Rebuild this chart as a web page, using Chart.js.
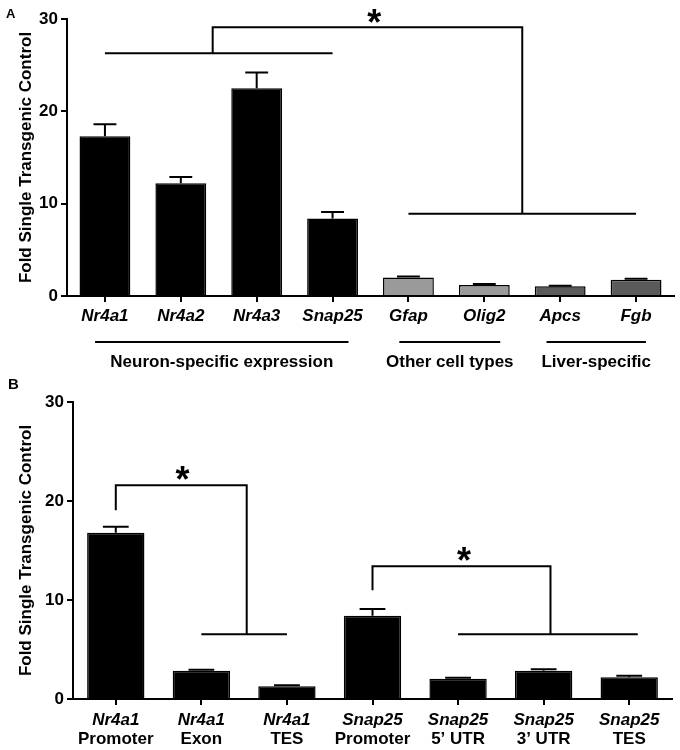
<!DOCTYPE html>
<html>
<head>
<meta charset="utf-8">
<script src="https://cdn.jsdelivr.net/npm/chart.js@4.4.0/dist/chart.umd.min.js"></script>
<style>
  html, body { margin: 0; padding: 0; background: #fff; }
  .panel { position: relative; width: 680px; height: 375px; }
</style>
</head>
<body>
<div class="panel"><canvas id="chartA"></canvas></div>
<div class="panel"><canvas id="chartB"></canvas></div>
<script>
// Panel A - gene expression
const genesA = ['Nr4a1', 'Nr4a2', 'Nr4a3', 'Snap25', 'Gfap', 'Olig2', 'Apcs', 'Fgb'];
const foldA = [17.3, 12.2, 22.5, 8.4, 2.0, 1.2, 1.05, 1.76];
const errA = [1.3, 0.7, 1.7, 0.7, 0.1, 0.1, 0.06, 0.11];
const colorsA = ['#000', '#000', '#000', '#000', '#9a9a9a', '#9a9a9a', '#5a5a5a', '#5a5a5a'];
const groupNamesA = ['Neuron-specific expression', 'Other cell types', 'Liver-specific'];
const groupSpansA = [[-0.13, 3.21], [3.88, 5.21], [5.82, 7.13]];
// significance brackets, [category index, value] points
const bracketsA = [
  [[0, 26.3], [3, 26.3]],
  [[1.42, 26.3], [1.42, 29.1], [5.5, 29.1], [5.5, 8.9]],
  [[4, 8.9], [7, 8.9]]
];
const starsA = [[3.55, 30.5]];

// Panel B - ChIP regions
const genesB = ['Nr4a1', 'Nr4a1', 'Nr4a1', 'Snap25', 'Snap25', 'Snap25', 'Snap25'];
const regionsB = ['Promoter', 'Exon', 'TES', 'Promoter', '5\u2019 UTR', '3\u2019 UTR', 'TES'];
const foldB = [16.8, 2.86, 1.28, 8.4, 2.05, 2.86, 2.19];
const errB = [0.6, 0.1, 0.1, 0.7, 0.1, 0.14, 0.16];
const bracketsB = [
  [[0, 19.06], [0, 21.6], [1.53, 21.6], [1.53, 6.53]],
  [[1, 6.53], [2, 6.53]],
  [[3, 10.98], [3, 13.4], [5.08, 13.4], [5.08, 6.53]],
  [[4, 6.53], [6.1, 6.53]]
];
const starsB = [[0.78, 23.05], [4.07, 14.85]];

const yTicks = [0, 10, 20, 30];
const FONT = '"Liberation Sans", Arial, Helvetica, sans-serif';

const annotPlugin = {
  id: 'annot',
  afterDatasetsDraw(chart, args, opts) {
    const ctx = chart.ctx;
    const y = chart.scales.y;
    const meta = chart.getDatasetMeta(0);
    ctx.save();
    ctx.strokeStyle = '#000';
    ctx.lineWidth = 2;
    meta.data.forEach((bar, i) => {
      const top = y.getPixelForValue(opts.values[i]);
      const et = y.getPixelForValue(opts.values[i] + opts.errors[i]);
      const hw = bar.width * 0.225;
      ctx.beginPath();
      ctx.moveTo(bar.x, top);
      ctx.lineTo(bar.x, et);
      ctx.moveTo(bar.x - hw, et);
      ctx.lineTo(bar.x + hw, et);
      ctx.stroke();
    });
    ctx.restore();
  },
  afterDraw(chart, args, opts) {
    const ctx = chart.ctx;
    const x = chart.scales.x;
    const y = chart.scales.y;
    ctx.save();
    ctx.strokeStyle = '#000';
    ctx.fillStyle = '#000';
    ctx.lineWidth = 2;
    ctx.lineJoin = 'miter';
    opts.brackets.forEach(pts => {
      ctx.beginPath();
      pts.forEach((p, k) => {
        const px = x.getPixelForValue(p[0]);
        const py = y.getPixelForValue(p[1]);
        if (k === 0) ctx.moveTo(px, py); else ctx.lineTo(px, py);
      });
      ctx.stroke();
    });
    // asterisks
    ctx.font = 'bold 36px ' + FONT;
    ctx.textAlign = 'center';
    ctx.textBaseline = 'alphabetic';
    opts.stars.forEach(s => {
      ctx.fillText('*', x.getPixelForValue(s[0]), y.getPixelForValue(s[1]) + 0.575 * 36);
    });
    // category labels
    ctx.textBaseline = 'middle';
    opts.labelRows.forEach(row => {
      ctx.font = row.font;
      row.texts.forEach((t, i) => {
        ctx.fillText(t, x.getPixelForValue(i), row.y);
      });
    });
    // group lines
    if (opts.groups) {
      ctx.font = 'bold 17px ' + FONT;
      opts.groups.names.forEach((name, i) => {
        const a = x.getPixelForValue(opts.groups.spans[i][0]);
        const b = x.getPixelForValue(opts.groups.spans[i][1]);
        ctx.beginPath();
        ctx.moveTo(a, opts.groups.lineY);
        ctx.lineTo(b, opts.groups.lineY);
        ctx.stroke();
        ctx.fillText(name, (a + b) / 2, opts.groups.textY);
      });
    }
    // panel letter
    ctx.font = opts.letter.font;
    ctx.textAlign = 'left';
    ctx.fillText(opts.letter.text, opts.letter.x, opts.letter.y);
    ctx.restore();
  }
};

function makeChart(id, cfg) {
  return new Chart(document.getElementById(id), {
    type: 'bar',
    data: {
      labels: cfg.labels,
      datasets: [{
        data: cfg.values,
        backgroundColor: cfg.colors,
        borderColor: '#000',
        borderWidth: 1.5,
        barPercentage: 0.67,
        categoryPercentage: 1.0
      }]
    },
    options: {
      responsive: true,
      maintainAspectRatio: false,
      animation: false,
      devicePixelRatio: 1,
      layout: { padding: cfg.padding },
      plugins: {
        legend: { display: false },
        tooltip: { enabled: false },
        annot: cfg.annot
      },
      scales: {
        x: {
          afterFit: s => { s.height = cfg.xHeight; },
          grid: { drawOnChartArea: false, offset: false, color: '#000', lineWidth: 2, tickLength: 6 },
          border: { color: '#000', width: 2 },
          ticks: { display: false }
        },
        y: {
          min: 0,
          max: 30,
          afterFit: s => { s.width = cfg.yWidth; },
          afterBuildTicks: s => { s.ticks = yTicks.map(v => ({ value: v })); },
          grid: { drawOnChartArea: false, color: '#000', lineWidth: 2, tickLength: 6 },
          border: { color: '#000', width: 2 },
          ticks: { color: '#000', padding: 3, font: { family: FONT, size: 17, weight: 'bold' } },
          title: {
            display: true,
            text: 'Fold Single Transgenic Control',
            color: '#000',
            padding: { top: 16, bottom: 0 },
            font: { family: FONT, size: 17, weight: 'bold' }
          }
        }
      }
    },
    plugins: [annotPlugin]
  });
}

makeChart('chartA', {
  labels: genesA,
  values: foldA,
  colors: colorsA,
  padding: { top: 19, right: 6, left: 0, bottom: 0 },
  xHeight: 79,
  yWidth: 67,
  annot: {
    values: foldA,
    errors: errA,
    brackets: bracketsA,
    stars: starsA,
    labelRows: [{ texts: genesA, y: 316, font: 'italic bold 17px ' + FONT }],
    groups: { names: groupNamesA, spans: groupSpansA, lineY: 342, textY: 362 },
    letter: { text: 'A', x: 6, y: 14, font: 'bold 13px ' + FONT }
  }
});

makeChart('chartB', {
  labels: genesB.map((g, i) => g + ' ' + regionsB[i]),
  values: foldB,
  colors: foldB.map(() => '#000'),
  padding: { top: 27, right: 8, left: 0, bottom: 0 },
  xHeight: 51,
  yWidth: 73,
  annot: {
    values: foldB,
    errors: errB,
    brackets: bracketsB,
    stars: starsB,
    labelRows: [
      { texts: genesB, y: 345, font: 'italic bold 17px ' + FONT },
      { texts: regionsB, y: 364, font: 'bold 17px ' + FONT }
    ],
    letter: { text: 'B', x: 8, y: 10, font: 'bold 15px ' + FONT }
  }
});
</script>
</body>
</html>
